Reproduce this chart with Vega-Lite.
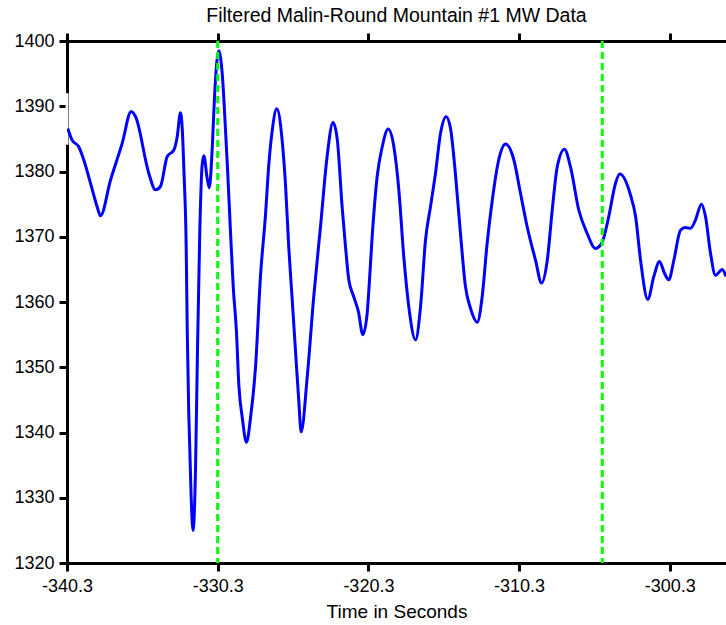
{
  "$schema": "https://vega.github.io/schema/vega-lite/v6.json",
  "width": 659,
  "height": 522,
  "autosize": {"type": "none"},
  "padding": {"left": 67, "top": 41, "right": 0, "bottom": 62},
  "background": "white",
  "title": {
    "text": "Filtered Malin-Round Mountain #1 MW Data",
    "font": "Liberation Sans",
    "fontSize": 19.5,
    "fontWeight": "normal",
    "color": "black",
    "anchor": "middle",
    "baseline": "alphabetic",
    "offset": 10,
    "dy": 20
  },
  "config": {
    "view": {"stroke": null},
    "axis": {
      "domainColor": "black",
      "domainWidth": 3,
      "tickColor": "black",
      "tickWidth": 3,
      "tickSize": 8,
      "grid": false,
      "labelFont": "Liberation Sans",
      "labelFontSize": 18,
      "labelColor": "black",
      "labelFlush": false,
      "labelOverlap": false,
      "titleFont": "Liberation Sans",
      "titleFontSize": 19,
      "titleFontWeight": "normal",
      "titleColor": "black"
    }
  },
  "resolve": {"axis": {"x": "independent"}},
  "layer": [
    {
      "data": {"values": [{"t": -340.3, "lo": 1384.1, "hi": 1392.0}]},
      "mark": {"type": "rule", "color": "white", "strokeWidth": 3},
      "encoding": {
        "x": {"field": "t", "type": "quantitative", "scale": {"domain": [-340.3, -296.57], "nice": false, "zero": false}, "axis": null},
        "y": {"field": "lo", "type": "quantitative", "scale": {"domain": [1320, 1400], "nice": false, "zero": false}, "axis": {"values": [1320, 1330, 1340, 1350, 1360, 1370, 1380, 1390, 1400], "format": "d", "title": null, "labelPadding": 5}},
        "y2": {"field": "hi"}
      }
    },
    {
      "data": {"values": [
        {"t": -340.25, "mw": 1386.6}, {"t": -339.96, "mw": 1384.8}, {"t": -339.52, "mw": 1383.8}, {"t": -339.19, "mw": 1381.8},
        {"t": -338.74, "mw": 1378.2}, {"t": -338.30, "mw": 1374.6}, {"t": -338.08, "mw": 1373.2}, {"t": -337.41, "mw": 1378.7},
        {"t": -336.64, "mw": 1384.3}, {"t": -336.04, "mw": 1389.2}, {"t": -335.75, "mw": 1388.4}, {"t": -334.87, "mw": 1379.7},
        {"t": -334.43, "mw": 1377.2}, {"t": -334.10, "mw": 1377.7}, {"t": -333.65, "mw": 1382.3}, {"t": -333.21, "mw": 1383.3},
        {"t": -332.99, "mw": 1385.3}, {"t": -332.77, "mw": 1389.0}, {"t": -332.64, "mw": 1386.0}, {"t": -332.54, "mw": 1380.0},
        {"t": -332.39, "mw": 1368.3}, {"t": -332.32, "mw": 1355.5}, {"t": -332.22, "mw": 1343.0}, {"t": -332.06, "mw": 1330.0},
        {"t": -331.94, "mw": 1325.0}, {"t": -331.77, "mw": 1334.6}, {"t": -331.66, "mw": 1350.0}, {"t": -331.49, "mw": 1370.7},
        {"t": -331.33, "mw": 1381.0}, {"t": -331.22, "mw": 1382.4}, {"t": -331.00, "mw": 1379.0}, {"t": -330.86, "mw": 1377.5},
        {"t": -330.66, "mw": 1383.7}, {"t": -330.51, "mw": 1391.5}, {"t": -330.23, "mw": 1398.5}, {"t": -330.00, "mw": 1395.0},
        {"t": -329.78, "mw": 1386.3}, {"t": -329.63, "mw": 1379.6}, {"t": -329.45, "mw": 1370.7}, {"t": -329.27, "mw": 1362.4},
        {"t": -329.05, "mw": 1355.2}, {"t": -328.90, "mw": 1347.4}, {"t": -328.67, "mw": 1342.3}, {"t": -328.39, "mw": 1338.5},
        {"t": -328.12, "mw": 1342.3}, {"t": -327.79, "mw": 1350.0}, {"t": -327.46, "mw": 1364.0}, {"t": -327.13, "mw": 1373.3},
        {"t": -326.91, "mw": 1381.0}, {"t": -326.68, "mw": 1386.3}, {"t": -326.38, "mw": 1389.6}, {"t": -326.02, "mw": 1384.7},
        {"t": -325.80, "mw": 1378.0}, {"t": -325.58, "mw": 1368.2}, {"t": -325.36, "mw": 1360.5}, {"t": -325.14, "mw": 1352.6},
        {"t": -324.92, "mw": 1344.9}, {"t": -324.76, "mw": 1340.1}, {"t": -324.36, "mw": 1348.5}, {"t": -323.92, "mw": 1361.0},
        {"t": -323.48, "mw": 1371.5}, {"t": -323.03, "mw": 1382.5}, {"t": -322.65, "mw": 1387.5}, {"t": -322.37, "mw": 1385.0},
        {"t": -322.04, "mw": 1374.5}, {"t": -321.82, "mw": 1368.5}, {"t": -321.60, "mw": 1363.4}, {"t": -321.27, "mw": 1360.8},
        {"t": -320.96, "mw": 1358.5}, {"t": -320.67, "mw": 1355.0}, {"t": -320.38, "mw": 1358.3}, {"t": -320.27, "mw": 1361.8},
        {"t": -320.05, "mw": 1370.0}, {"t": -319.72, "mw": 1379.2}, {"t": -319.38, "mw": 1383.8}, {"t": -318.99, "mw": 1386.5},
        {"t": -318.61, "mw": 1383.8}, {"t": -318.28, "mw": 1377.2}, {"t": -317.95, "mw": 1366.9}, {"t": -317.62, "mw": 1359.3},
        {"t": -317.17, "mw": 1354.2}, {"t": -316.84, "mw": 1359.3}, {"t": -316.51, "mw": 1369.5}, {"t": -316.18, "mw": 1374.6},
        {"t": -315.85, "mw": 1379.7}, {"t": -315.51, "mw": 1385.9}, {"t": -315.14, "mw": 1388.4}, {"t": -314.85, "mw": 1386.6},
        {"t": -314.52, "mw": 1379.5}, {"t": -314.19, "mw": 1370.5}, {"t": -313.86, "mw": 1362.4}, {"t": -313.52, "mw": 1359.0},
        {"t": -313.08, "mw": 1356.9}, {"t": -312.75, "mw": 1360.8}, {"t": -312.42, "mw": 1369.0}, {"t": -312.08, "mw": 1375.6},
        {"t": -311.65, "mw": 1381.8}, {"t": -311.20, "mw": 1384.2}, {"t": -310.65, "mw": 1381.8}, {"t": -310.21, "mw": 1376.7},
        {"t": -309.76, "mw": 1371.5}, {"t": -309.21, "mw": 1366.4}, {"t": -308.81, "mw": 1362.9}, {"t": -308.43, "mw": 1366.4},
        {"t": -308.10, "mw": 1374.1}, {"t": -307.77, "mw": 1380.7}, {"t": -307.29, "mw": 1383.4}, {"t": -306.89, "mw": 1380.7},
        {"t": -306.34, "mw": 1374.1}, {"t": -305.78, "mw": 1370.5}, {"t": -305.23, "mw": 1368.2}, {"t": -304.78, "mw": 1369.2},
        {"t": -304.35, "mw": 1373.1}, {"t": -303.90, "mw": 1378.2}, {"t": -303.62, "mw": 1379.6}, {"t": -302.91, "mw": 1376.4},
        {"t": -302.57, "mw": 1373.1}, {"t": -302.24, "mw": 1366.4}, {"t": -301.76, "mw": 1360.4}, {"t": -301.36, "mw": 1363.9},
        {"t": -300.98, "mw": 1366.2}, {"t": -300.65, "mw": 1364.4}, {"t": -300.37, "mw": 1363.4}, {"t": -300.03, "mw": 1366.4},
        {"t": -299.59, "mw": 1371.0}, {"t": -299.26, "mw": 1371.4}, {"t": -298.92, "mw": 1371.3}, {"t": -298.59, "mw": 1372.6},
        {"t": -298.20, "mw": 1375.0}, {"t": -297.93, "mw": 1373.1}, {"t": -297.60, "mw": 1367.5}, {"t": -297.27, "mw": 1364.1},
        {"t": -296.82, "mw": 1365.0}, {"t": -296.57, "mw": 1363.9}
      ]},
      "mark": {"type": "line", "color": "#0000FF", "strokeWidth": 3, "interpolate": "monotone", "clip": true},
      "encoding": {
        "x": {"field": "t", "type": "quantitative", "scale": {"domain": [-340.3, -296.57], "nice": false, "zero": false},
              "axis": {"orient": "bottom", "values": [-340.3, -330.3, -320.3, -310.3, -300.3], "format": ".1f", "labelExpr": "replace(datum.label, '\u2212', '-')", "title": "Time in Seconds", "labelPadding": 6, "titlePadding": 7}},
        "y": {"field": "mw", "type": "quantitative", "scale": {"domain": [1320, 1400], "nice": false, "zero": false}, "axis": {"values": [1320, 1330, 1340, 1350, 1360, 1370, 1380, 1390, 1400], "format": "d", "title": null, "labelPadding": 5}}
      }
    },
    {
      "data": {"values": [{"t": -330.3}, {"t": -304.78}]},
      "mark": {"type": "rule", "color": "#00FF00", "strokeWidth": 3, "strokeDash": [7, 4]},
      "encoding": {
        "x": {"field": "t", "type": "quantitative", "scale": {"domain": [-340.3, -296.57], "nice": false, "zero": false},
              "axis": {"orient": "top", "values": [-340.3, -330.3, -320.3, -310.3, -300.3], "labels": false, "title": null}}
      }
    }
  ]
}
